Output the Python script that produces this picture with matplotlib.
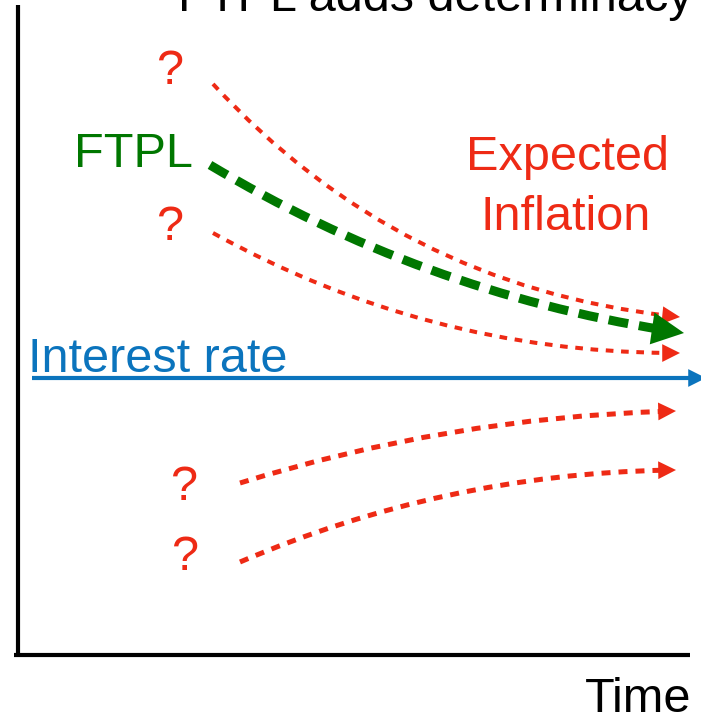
import matplotlib
matplotlib.use("Agg")
from matplotlib import pyplot as plt

plt.rcParams['font.family'] = ['Liberation Sans', 'DejaVu Sans']

# texts
title = "FTPL adds determinacy"
x_label = "Time"
rate_label = "Interest rate"
ftpl_label = "FTPL"
infl_label = ["Expected", "Inflation"]

# red dotted paths (start -> end) and how much they bend
red_start_x = [213, 213, 240, 240]
red_start_y = [84, 233, 483, 562]
red_end_x = [680, 680, 676, 676]
red_end_y = [317, 353, 411, 470]
red_bend = [0.19, 0.13, -0.07, -0.10]

# green FTPL path
ftpl_start = (210, 165)
ftpl_end = (684, 333)
ftpl_bend = 0.10

# interest rate line
rate_y = 378
rate_x = (32, 706)

# question marks
q_x = [170, 170, 184, 185]
q_y = [72, 227, 488, 557]

red = '#ee2a15'
green = '#007700'
blue = '#0b74bd'

W, H = 701, 717
fig = plt.figure(figsize=(W / 100, H / 100), dpi=100)
ax = fig.add_axes([0, 0, 1, 1])
ax.set_xlim(0, W)
ax.set_ylim(H, 0)
ax.axis('off')


def head_from(p0, p1, rad):
    # point just before p1 along the arc3 end direction (arc3 works in screen coords, y up)
    x0, y0 = p0[0], H - p0[1]
    x1, y1 = p1[0], H - p1[1]
    mx, my = (x0 + x1) / 2, (y0 + y1) / 2
    dx, dy = x1 - x0, y1 - y0
    cx, cy = mx + rad * dy, my - rad * dx
    ux, uy = x1 - cx, y1 - cy
    n = (ux ** 2 + uy ** 2) ** 0.5
    return (x1 - 2 * ux / n, H - (y1 - 2 * uy / n))


def curved_arrow(p0, p1, rad, color, lw, ls, head):
    ax.annotate("", xy=p1, xytext=p0, annotation_clip=False,
                arrowprops=dict(arrowstyle="-", connectionstyle="arc3,rad=%s" % rad,
                                color=color, lw=lw, linestyle=ls, capstyle='butt',
                                shrinkA=0, shrinkB=head * 0.25))
    ax.annotate("", xy=p1, xytext=head_from(p0, p1, rad), annotation_clip=False,
                arrowprops=dict(arrowstyle="-|>,head_length=0.4,head_width=0.2",
                                color=color, lw=0, shrinkA=0, shrinkB=0,
                                mutation_scale=head))


# axes lines
ax.plot([18, 18], [5, 657], color='black', lw=3, solid_capstyle='butt')
ax.plot([14, 690], [655, 655], color='black', lw=3, solid_capstyle='butt')

# interest rate arrow
ax.plot([rate_x[0], rate_x[1] - 10], [rate_y, rate_y], color=blue, lw=3,
        solid_capstyle='butt')
ax.annotate("", xy=(rate_x[1], rate_y), xytext=(rate_x[1] - 2, rate_y),
            annotation_clip=False,
            arrowprops=dict(arrowstyle="-|>,head_length=0.4,head_width=0.2",
                            color=blue, lw=0, shrinkA=0, shrinkB=0,
                            mutation_scale=32))

# red expected inflation paths
for i in range(len(red_start_x)):
    if i < 2:
        lw, ls = 2.9, (0, (1.9, 1.9))
    else:
        lw, ls = 3.6, (0, (1.8, 1.6))
    curved_arrow((red_start_x[i], red_start_y[i]), (red_end_x[i], red_end_y[i]),
                 red_bend[i], red, lw, ls, 32)

# green FTPL path
curved_arrow(ftpl_start, ftpl_end, ftpl_bend, green, 6.5, (0, (2.2, 1.2)), 58)

# labels
fs = 35
ax.text(178, 11, title, fontsize=fs, color='black', ha='left', va='baseline')
ax.text(638, 712, x_label, fontsize=fs, color='black', ha='center', va='baseline')
ax.text(28, 372, rate_label, fontsize=fs, color=blue, ha='left', va='baseline')
ax.text(133, 167, ftpl_label, fontsize=fs, color=green, ha='center', va='baseline')
ax.text(567, 170, infl_label[0], fontsize=fs, color=red, ha='center', va='baseline')
ax.text(566, 230, infl_label[1], fontsize=fs, color=red, ha='center', va='baseline')
for qx, qy in zip(q_x, q_y):
    ax.text(qx, qy, "?", fontsize=fs, color=red, ha='center', va='center')

fig.savefig("out.png", dpi=100)
